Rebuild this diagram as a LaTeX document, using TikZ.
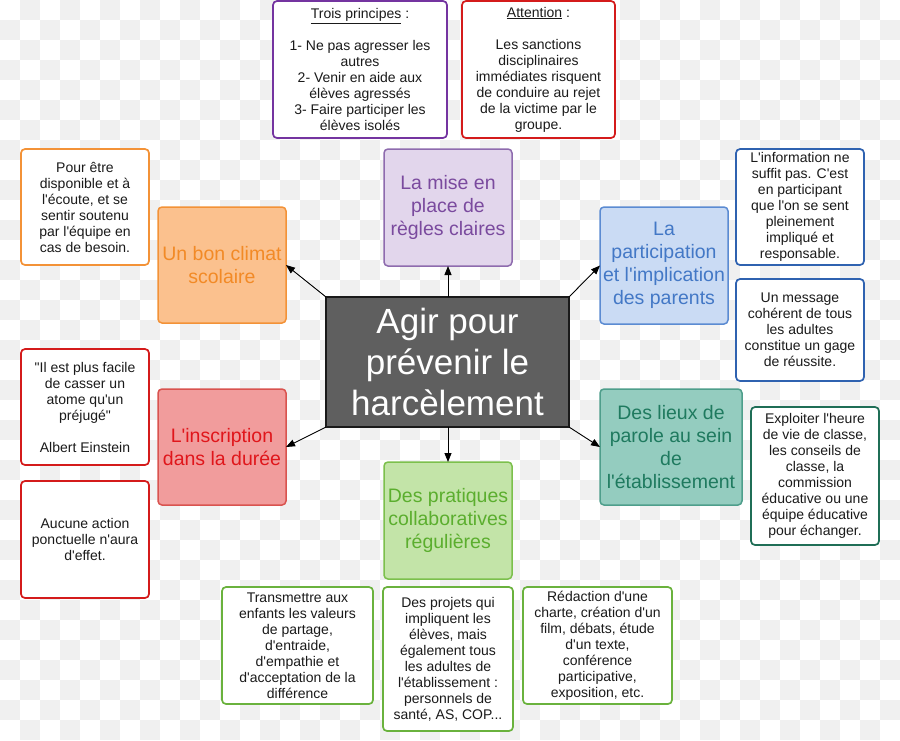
\documentclass[tikz,border=0pt]{standalone}
\usepackage{fontspec}
\newfontfamily\arial{Liberation Sans}
\usetikzlibrary{arrows.meta}
\definecolor{checker}{HTML}{F0F0F0}
\definecolor{ink}{HTML}{1A1A1A}
\definecolor{orBorder}{HTML}{F39237}
\definecolor{orFill}{HTML}{FBC18E}
\definecolor{orText}{HTML}{F28A26}
\definecolor{puBorder}{HTML}{8E6BAE}
\definecolor{puFill}{HTML}{E2D6EC}
\definecolor{puText}{HTML}{7A4A9E}
\definecolor{puNote}{HTML}{7434A0}
\definecolor{rdNote}{HTML}{D41B1B}
\definecolor{rdBorder}{HTML}{D9534F}
\definecolor{rdFill}{HTML}{F19C9C}
\definecolor{rdText}{HTML}{E0161B}
\definecolor{blBorder}{HTML}{5B8BD2}
\definecolor{blFill}{HTML}{CADBF4}
\definecolor{blText}{HTML}{4378C6}
\definecolor{blNote}{HTML}{2F62B0}
\definecolor{tlBorder}{HTML}{4E9E8B}
\definecolor{tlFill}{HTML}{94CCBF}
\definecolor{tlText}{HTML}{1F7A5F}
\definecolor{tlNote}{HTML}{1F6E56}
\definecolor{gnBorder}{HTML}{7CC04C}
\definecolor{gnFill}{HTML}{C3E4A8}
\definecolor{gnText}{HTML}{5BAE2E}
\definecolor{gnNote}{HTML}{6AB23D}
\definecolor{ctFill}{HTML}{5F5F5F}
\begin{document}
\begin{tikzpicture}[x=1pt,y=-1pt,
  note/.style={draw, fill=white, line width=1.7pt, rounded corners=4pt, inner sep=0pt, outer sep=0pt,
    align=center, text=ink, font=\arial\fontsize{14}{16}\selectfont},
  topic/.style={draw, line width=1.5pt, rounded corners=4pt, inner sep=0pt, outer sep=0pt,
    align=center, font=\arial\fontsize{19.5}{23.2}\selectfont},
  link/.style={line width=0.9pt, draw=black, -{Triangle[length=9pt,width=7pt]}}]
\useasboundingbox (0,0) rectangle (900,740);
\fill[white] (0,0) rectangle (900,740);
% faint checkerboard background
\foreach \i in {0,...,44} {
  \foreach \j in {0,...,36} {
    \pgfmathtruncatemacro\myparity{mod(\i+\j,2)}
    \ifnum\myparity=1 \fill[checker] (\i*20,\j*20) rectangle ++(20,20); \fi
  }
}
% top notes
\node[note, draw=puNote, minimum width=174pt, minimum height=137pt] (trois) at (360,69.5)
  {\underline{Trois principes} :\\[16pt]1- Ne pas agresser les\\autres\\2- Venir en aide aux\\élèves agressés\\3- Faire participer les\\élèves isolés};
\node[note, draw=rdNote, minimum width=153pt, minimum height=137pt] (attention) at (538.5,69.5)
  {\underline{Attention} :\\[16pt]Les sanctions\\disciplinaires\\immédiates risquent\\de conduire au rejet\\de la victime par le\\groupe.};
% center
\node[draw=ink, fill=ctFill, line width=2pt, inner sep=0pt, outer sep=0pt, minimum width=243pt, minimum height=130pt,
  align=center, text=white, font=\arial\fontsize{35}{41}\selectfont] (c) at (447.5,362)
  {Agir pour\\prévenir le\\harcèlement};
% topics
\node[topic, draw=puBorder, fill=puFill, text=puText, minimum width=128pt, minimum height=117pt] (mise) at (448,207.5)
  {La mise en\\place de\\règles claires};
\node[topic, draw=orBorder, fill=orFill, text=orText, minimum width=128pt, minimum height=116pt] (climat) at (222,265)
  {Un bon climat\\scolaire};
\node[topic, draw=blBorder, fill=blFill, text=blText, minimum width=128pt, minimum height=117pt] (partic) at (664,265.5)
  {La\\participation\\et l'implication\\des parents};
\node[topic, draw=rdBorder, fill=rdFill, text=rdText, minimum width=128pt, minimum height=116pt] (inscr) at (222,447)
  {L'inscription\\dans la durée};
\node[topic, draw=tlBorder, fill=tlFill, text=tlText, minimum width=142pt, minimum height=116pt] (lieux) at (671,447)
  {Des lieux de\\parole au sein\\de\\l'établissement};
\node[topic, draw=gnBorder, fill=gnFill, text=gnText, minimum width=128pt, minimum height=117pt] (prat) at (448,520.5)
  {Des pratiques\\collaboratives\\régulières};
% side notes
\node[note, draw=orBorder, minimum width=128pt, minimum height=116pt] (pour) at (85,207)
  {Pour être\\disponible et à\\l'écoute, et se\\sentir soutenu\\par l'équipe en\\cas de besoin.};
\node[note, draw=rdNote, minimum width=128pt, minimum height=116pt] (quote) at (85,407)
  {"Il est plus facile\\de casser un\\atome qu'un\\préjugé"\\[16pt]Albert Einstein};
\node[note, draw=rdNote, minimum width=128pt, minimum height=117pt] (aucune) at (85,539.5)
  {Aucune action\\ponctuelle n'aura\\d'effet.};
\node[note, draw=blNote, minimum width=128pt, minimum height=116pt] (info) at (800,207)
  {L'information ne\\suffit pas. C'est\\en participant\\que l'on se sent\\pleinement\\impliqué et\\responsable.};
\node[note, draw=blNote, minimum width=128pt, minimum height=102pt] (message) at (800,330)
  {Un message\\cohérent de tous\\les adultes\\constitue un gage\\de réussite.};
\node[note, draw=tlNote, minimum width=128pt, minimum height=138pt] (exploit) at (815,476)
  {Exploiter l'heure\\de vie de classe,\\les conseils de\\classe, la\\commission\\éducative ou une\\équipe éducative\\pour échanger.};
\node[note, draw=gnNote, minimum width=151pt, minimum height=117pt] (transm) at (297.5,645.5)
  {Transmettre aux\\enfants les valeurs\\de partage,\\d'entraide,\\d'empathie et\\d'acceptation de la\\différence};
\node[note, draw=gnNote, minimum width=130pt, minimum height=144pt] (projets) at (448,659)
  {Des projets qui\\impliquent les\\élèves, mais\\également tous\\les adultes de\\l'établissement :\\personnels de\\santé, AS, COP...};
\node[note, draw=gnNote, minimum width=149pt, minimum height=117pt] (redac) at (597.5,645.5)
  {Rédaction d'une\\charte, création d'un\\film, débats, étude\\d'un texte,\\conférence\\participative,\\exposition, etc.};
% connectors
\draw[link] (c.north -| mise.south) -- (mise.south);
\draw[link] (c.south -| prat.north) -- (prat.north);
\draw[link] (c.north west) -- (climat.east);
\draw[link] (c.north east) -- (partic.west);
\draw[link] (c.south west) -- (inscr.east);
\draw[link] (c.south east) -- (lieux.west);
\end{tikzpicture}
\end{document}
